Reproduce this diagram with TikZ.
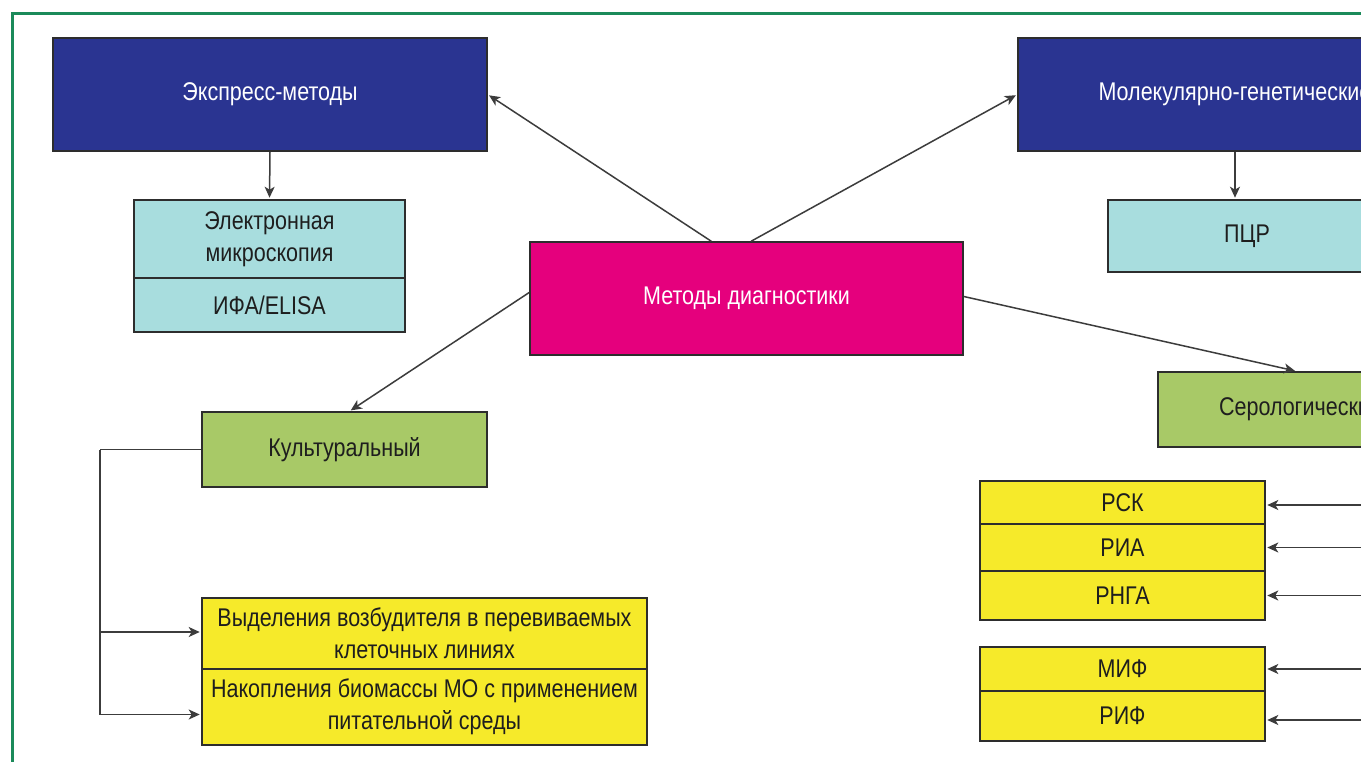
\documentclass[tikz,border=0pt]{standalone}
\usepackage{fontspec}
\setmainfont{Liberation Sans}[FakeStretch=0.84]
\usetikzlibrary{arrows.meta,calc}
\definecolor{dblue}{RGB}{42,52,145}
\definecolor{lcyan}{RGB}{168,221,222}
\definecolor{magen}{RGB}{229,0,125}
\definecolor{lgreen}{RGB}{168,201,103}
\definecolor{yell}{RGB}{246,234,42}
\definecolor{framec}{RGB}{27,138,90}
\definecolor{boxline}{RGB}{45,45,45}
\definecolor{txt}{RGB}{30,30,30}
\definecolor{arrowc}{RGB}{60,60,60}
\tikzset{
  box/.style={draw=boxline, line width=1.6pt, inner sep=0pt, align=center,
    font=\fontsize{25.6}{32}\selectfont, text=txt},
  bluebox/.style={box, fill=dblue, text=white, minimum width=434pt, minimum height=113pt},
  magbox/.style={box, fill=magen, text=white, minimum width=433pt, minimum height=113pt},
  cyanbox/.style={box, fill=lcyan, minimum width=271pt},
  greenbox/.style={box, fill=lgreen, minimum width=285pt, minimum height=75pt},
  yellbox/.style={box, fill=yell},
  conn/.style={draw=arrowc, line width=1.5pt, shorten >=1.5pt, -{Stealth[length=11pt,width=10pt,inset=3pt]}},
  plain/.style={draw=arrowc, line width=1.5pt},
  framel/.style={draw=framec, line width=3pt}
}
\begin{document}
\begin{tikzpicture}[x=1pt,y=-1pt]
\useasboundingbox (0,0) rectangle (1361,762);
\fill[white] (0,0) rectangle (1361,762);
\clip (0,0) rectangle (1361,762);
\draw[framel] (12,800) -- (12,14) -- (1400,14);

\node[bluebox] (expr) at (270,94.5) {Экспресс-методы};
\node[bluebox] (mol) at (1235,94.5) {Молекулярно-генетические};
\node[cyanbox, minimum height=78pt] (em) at (269.5,239) {Электронная\\микроскопия};
\node[cyanbox, minimum height=54pt] (ifa) at (269.5,305) {ИФА/ELISA};
\node[cyanbox, minimum width=278pt, minimum height=72pt] (pcr) at (1247,236) {ПЦР};
\node[magbox] (main) at (746.5,298.5) {Методы диагностики};
\node[greenbox] (kult) at (344.5,449.5) {Культуральный};
\node[greenbox] (sero) at (1300.5,409.5) {Серологические};

\node[yellbox, minimum width=285pt, minimum height=43pt] (rsk) at (1122.5,502.5) {РСК};
\node[yellbox, minimum width=285pt, minimum height=47pt] (ria) at (1122.5,547.5) {РИА};
\node[yellbox, minimum width=285pt, minimum height=49pt] (rnga) at (1122.5,595.5) {РНГА};
\node[yellbox, minimum width=285pt, minimum height=44pt] (mif) at (1122.5,669) {МИФ};
\node[yellbox, minimum width=285pt, minimum height=50pt] (rif) at (1122.5,716) {РИФ};

\node[yellbox, minimum width=445pt, minimum height=71pt] (vyd) at (424.5,633.5) {Выделения возбудителя в перевиваемых\\клеточных линиях};
\node[yellbox, minimum width=445pt, minimum height=76pt] (nak) at (424.5,707) {Накопления биомассы МО с применением\\питательной среды};

\draw[conn] ($(main.north west)+(182,0)$) -- (expr.east);
\draw[conn] ($(main.north west)+(222,0)$) -- (mol.west);
\draw[conn] (expr.south) -- (em.north);
\draw[conn] (mol.south) -- (mol.south |- pcr.north);
\draw[conn] ($(main.west)+(0,-6)$) -- ($(kult.north)+(5,0)$);
\draw[conn] ($(main.east)+(0,-2)$) -- ($(sero.north)+(-4,0)$);

\coordinate (lb) at (100,449.5);
\draw[plain] (kult.west) -- (lb);
\draw[conn] (lb) |- ($(vyd.west)+(0,-1.5)$);
\draw[conn] (lb) |- ($(nak.west)+(0,7.5)$);

\coordinate (rx) at (1420,0);
\coordinate (rskin) at ($(rsk.east)+(0,2.5)$);
\coordinate (rifin) at ($(rif.east)+(0,4)$);
\draw[conn] (rskin -| rx) -- (rskin);
\draw[conn] (ria.east -| rx) -- (ria.east);
\draw[conn] (rnga.east -| rx) -- (rnga.east);
\draw[conn] (mif.east -| rx) -- (mif.east);
\draw[conn] (rifin -| rx) -- (rifin);
\end{tikzpicture}
\end{document}
